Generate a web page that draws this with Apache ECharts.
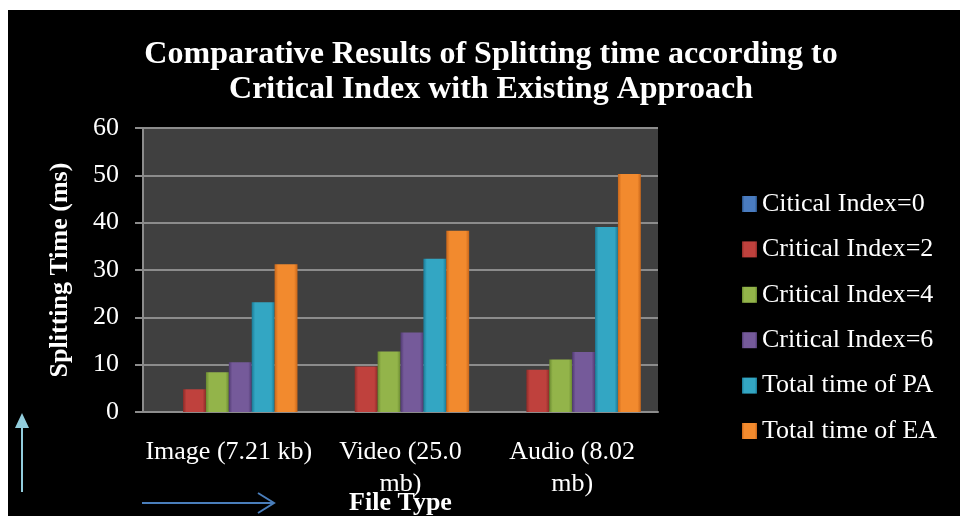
<!DOCTYPE html>
<html>
<head>
<meta charset="utf-8">
<script src="https://cdn.jsdelivr.net/npm/echarts@6/dist/echarts.min.js"></script>
<style>
html,body{margin:0;padding:0;background:#ffffff;}
#chart{width:960px;height:516px;}
</style>
</head>
<body>
<div id="chart"></div>
<script>
var categories = ['Image (7.21 kb)', 'Video (25.0 mb)', 'Audio (8.02 mb)'];
var seriesNames = ['Citical Index=0', 'Critical Index=2', 'Critical Index=4', 'Critical Index=6', 'Total time of PA', 'Total time of EA'];
var ci0 = [0, 0, 0];
var ci2 = [4.8, 9.6, 8.9];
var ci4 = [8.4, 12.8, 11.1];
var ci6 = [10.5, 16.8, 12.7];
var totalPA = [23.2, 32.4, 39.1];
var totalEA = [31.2, 38.3, 50.3];
var yTicks = [0, 10, 20, 30, 40, 50, 60];

var seriesData = [ci0, ci2, ci4, ci6, totalPA, totalEA];
var palette = [
  ['#274f82', '#4a7cc0'],
  ['#8e2b28', '#bf413d'],
  ['#6a8a30', '#93b44a'],
  ['#503a72', '#755a9a'],
  ['#1a7a96', '#33a6c3'],
  ['#c8661a', '#f28a2e']
];
function grad(c) {
  return new echarts.graphic.LinearGradient(0, 0, 1, 0, [
    {offset: 0, color: c[0]},
    {offset: 0.15, color: c[1]},
    {offset: 0.85, color: c[1]},
    {offset: 1, color: c[0]}
  ]);
}

var chart = echarts.init(document.getElementById('chart'));
var serif = '"Liberation Serif", "DejaVu Serif", serif';

var series = seriesNames.map(function (name, i) {
  return {
    name: name,
    type: 'bar',
    data: seriesData[i],
    barGap: '0%',
    barCategoryGap: '20%',
    itemStyle: { color: grad(palette[i]) }
  };
});

chart.setOption({
  backgroundColor: '#ffffff',
  animation: false,
  graphic: [
    { type: 'rect', z: -10, shape: { x: 8, y: 10, width: 952, height: 506 }, style: { fill: '#000000' } },
    { type: 'line', z: 10, shape: { x1: 22, y1: 492, x2: 22, y2: 425 }, style: { stroke: '#92cddc', lineWidth: 2 } },
    { type: 'polygon', z: 10, shape: { points: [[22, 413], [15, 428], [29, 428]] }, style: { fill: '#92cddc' } },
    { type: 'line', z: 10, shape: { x1: 142, y1: 503, x2: 274, y2: 503 }, style: { stroke: '#4a7ebb', lineWidth: 2 } },
    { type: 'polyline', z: 10, shape: { points: [[258, 493], [274, 503], [258, 513]] }, style: { stroke: '#4a7ebb', lineWidth: 2, fill: null } }
  ],
  title: {
    text: 'Comparative Results of Splitting time according to\nCritical Index with Existing Approach',
    left: 491,
    textAlign: 'center',
    top: 37,
    padding: 0,
    textStyle: { color: '#ffffff', fontFamily: serif, fontWeight: 'bold', fontSize: 32, lineHeight: 35 }
  },
  legend: {
    data: seriesNames,
    orient: 'vertical',
    left: 742,
    top: 191,
    padding: 0,
    itemWidth: 15,
    itemHeight: 16,
    itemGap: 19.4,
    icon: 'rect',
    textStyle: { color: '#ffffff', fontFamily: serif, fontSize: 26 }
  },
  grid: { left: 143, right: 302, top: 128, bottom: 104, backgroundColor: '#404040', show: true, borderWidth: 0, containLabel: false, outerBoundsMode: 'none' },
  xAxis: {
    type: 'category',
    data: categories,
    name: 'File Type',
    nameLocation: 'middle',
    nameGap: 78,
    nameMoveOverlap: false,
    nameTextStyle: { color: '#ffffff', fontFamily: serif, fontWeight: 'bold', fontSize: 26 },
    axisLine: { lineStyle: { color: '#8c8c8c', width: 2 } },
    axisTick: { show: false },
    axisLabel: {
      interval: 0,
      color: '#ffffff', fontFamily: serif, fontSize: 26, lineHeight: 32, margin: 24,
      formatter: function (v) { return v.replace(' mb)', '\nmb)'); }
    }
  },
  yAxis: {
    type: 'value',
    min: yTicks[0],
    max: yTicks[yTicks.length - 1],
    interval: yTicks[1] - yTicks[0],
    name: 'Splitting Time (ms)',
    nameLocation: 'middle',
    nameGap: 70,
    nameRotate: 90,
    nameMoveOverlap: false,
    nameTextStyle: { color: '#ffffff', fontFamily: serif, fontWeight: 'bold', fontSize: 26 },
    axisLine: { show: true, lineStyle: { color: '#8c8c8c', width: 2 } },
    axisTick: { show: true, length: 8, lineStyle: { color: '#8c8c8c', width: 2 } },
    splitLine: { lineStyle: { color: '#8c8c8c', width: 2 } },
    axisLabel: { color: '#ffffff', fontFamily: serif, fontSize: 26, margin: 24 }
  },
  series: series
});
</script>
</body>
</html>
